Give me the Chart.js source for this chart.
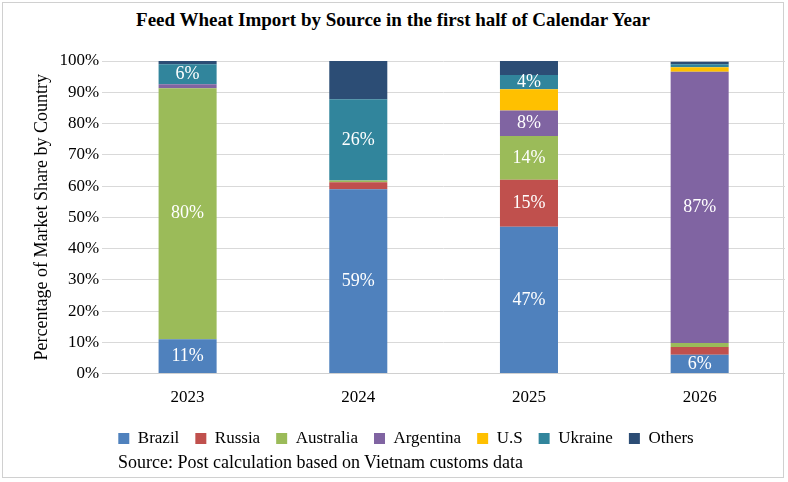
<!DOCTYPE html>
<html>
<head>
<meta charset="utf-8">
<script src="https://cdn.jsdelivr.net/npm/chart.js@4"></script>
<style>
  body { margin: 0; background: #fff; }
  #wrap { position: absolute; left: 2px; top: 2px; width: 782px; height: 476px; border: 1px solid #d0d0d0; box-sizing: border-box; }
  h1 { margin: 0; position: absolute; top: 6px; width: 100%; text-align: center; font: bold 19px "Liberation Serif", serif; }
  #box { position: absolute; left: 24px; top: 36px; width: 758px; height: 418px; }
  #src { position: absolute; top: 449px; left: 115px; font: 18px "Liberation Serif", serif; }
</style>
</head>
<body>
<div id="wrap">
  <h1>Feed Wheat Import by Source in the first half of Calendar Year</h1>
  <div id="box"><canvas id="c"></canvas></div>
  <div id="src">Source: Post calculation based on Vietnam customs data</div>
</div>
<script>
const years = ["2023", "2024", "2025", "2026"];
const brazil    = [11, 59, 47, 6];
const russia    = [0, 2.2, 15, 2.5];
const australia = [80.3, 0.6, 14, 1.3];
const argentina = [1.3, 0, 8.2, 86.8];
const us        = [0, 0, 6.8, 1.4];
const ukraine   = [6.4, 26, 4.5, 1];
const others    = [1, 12.2, 4.5, 0.8];
// labels printed on the bars (null = no label)
const brazilLbl    = ["11%", "59%", "47%", "6%"];
const australiaLbl = ["80%", null, "14%", null];
const russiaLbl    = [null, null, "15%", null];
const argentinaLbl = [null, null, "8%", "87%"];
const ukraineLbl   = ["6%", "26%", "4%", null];

const serif = "'Liberation Serif', serif";
Chart.defaults.font.family = serif;
Chart.defaults.color = "#000";

const series = [
  { label: "Brazil", data: brazil, backgroundColor: "#4f81bd", lbl: brazilLbl },
  { label: "Russia", data: russia, backgroundColor: "#c0504d", lbl: russiaLbl },
  { label: "Australia", data: australia, backgroundColor: "#9bbb59", lbl: australiaLbl },
  { label: "Argentina", data: argentina, backgroundColor: "#8064a2", lbl: argentinaLbl },
  { label: "U.S", data: us, backgroundColor: "#ffc000" },
  { label: "Ukraine", data: ukraine, backgroundColor: "#31859c", lbl: ukraineLbl },
  { label: "Others", data: others, backgroundColor: "#2c4d75" }
];

const barLabels = {
  id: "barLabels",
  afterDatasetsDraw(chart) {
    const ctx = chart.ctx;
    ctx.save();
    ctx.font = "18px " + serif;
    ctx.fillStyle = "#fff";
    ctx.textAlign = "center";
    ctx.textBaseline = "middle";
    chart.data.datasets.forEach((ds, i) => {
      if (!ds.lbl) return;
      chart.getDatasetMeta(i).data.forEach((bar, j) => {
        if (ds.lbl[j]) ctx.fillText(ds.lbl[j], bar.x, (bar.y + bar.base) / 2);
      });
    });
    ctx.restore();
  }
};

new Chart(document.getElementById("c"), {
  type: "bar",
  data: {
    labels: years,
    datasets: series.map(s => ({ ...s, categoryPercentage: 1, barPercentage: 0.34, borderWidth: 0 }))
  },
  options: {
    responsive: true,
    maintainAspectRatio: false,
    animation: false,
    layout: { padding: { right: 0, top: 22 } },
    scales: {
      x: {
        stacked: true,
        grid: { display: false },
        border: { color: "#d0d0d0" },
        ticks: { font: { size: 17 }, padding: 6 }
      },
      y: {
        stacked: true,
        min: 0, max: 100,
        ticks: { stepSize: 10, callback: v => v + "%", font: { size: 17 } },
        grid: { color: "#d9d9d9", drawTicks: false },
        border: { display: false },
        title: { display: true, text: "Percentage of Market Share by Country", font: { size: 18 } }
      }
    },
    plugins: {
      legend: {
        position: "bottom",
        labels: { boxWidth: 11, boxHeight: 11, font: { size: 17 }, padding: 16 }
      },
      tooltip: { enabled: false }
    }
  },
  plugins: [barLabels]
});
</script>
</body>
</html>
